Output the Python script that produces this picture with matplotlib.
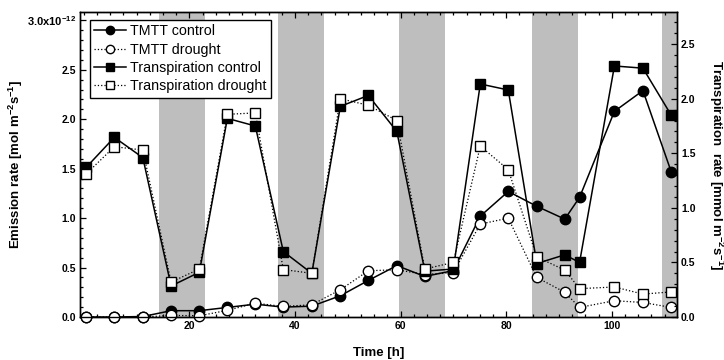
import numpy as np
import matplotlib
matplotlib.use('Agg')
import matplotlib.pyplot as plt
from matplotlib.ticker import MultipleLocator, FixedLocator, FixedFormatter

plt.rcParams['font.family'] = ['Liberation Sans', 'DejaVu Sans']
plt.rcParams['mathtext.fontset'] = 'custom'
plt.rcParams['mathtext.rm'] = 'Liberation Sans'
plt.rcParams['mathtext.bf'] = 'Liberation Sans:bold'
plt.rcParams['mathtext.it'] = 'Liberation Sans:italic'

# sampling times [h]
time = [0.45, 5.8, 11.2, 16.55, 21.9, 27.2, 32.5, 37.8, 43.2, 48.6, 53.9,
        59.3, 64.6, 70.0, 75.1, 80.4, 85.8, 91.1, 93.9, 100.5, 105.9, 111.25]

# TMTT emission [x1e-12 mol m-2 s-1]
tmtt_control = [0.0, 0.0, 0.005, 0.064, 0.064, 0.097, 0.13, 0.10, 0.11, 0.215, 0.37,
                0.52, 0.41, 0.47, 1.02, 1.27, 1.12, 0.99, 1.21, 2.08, 2.29, 1.47]
tmtt_drought = [0.0, 0.0, 0.0, 0.016, 0.013, 0.067, 0.14, 0.107, 0.124, 0.276, 0.468,
                0.478, 0.43, 0.45, 0.94, 1.0, 0.40, 0.25, 0.097, 0.165, 0.147, 0.097]

# transpiration [mmol m-2 s-1]
transp_control = [1.37, 1.646, 1.46, 0.284, 0.41, 1.82, 1.75, 0.60, 0.40, 1.93, 2.03,
                  1.70, 0.42, 0.44, 2.135, 2.08, 0.49, 0.57, 0.50, 2.30, 2.28, 1.85]
transp_drought = [1.31, 1.56, 1.53, 0.32, 0.44, 1.857, 1.87, 0.435, 0.40, 2.0, 1.94,
                  1.80, 0.44, 0.50, 1.566, 1.35, 0.55, 0.43, 0.26, 0.275, 0.21, 0.23]

# dark periods [h]
nights = [(14.3, 22.9), (36.8, 45.5), (59.7, 68.4), (84.9, 93.6), (109.5, 113)]

fig = plt.figure(figsize=(7.24, 3.6), dpi=100)
ax1 = fig.add_axes([0.1105, 0.1194, 0.8242, 0.8459])
ax2 = ax1.twinx()

for a, b in nights:
    ax1.axvspan(a, b, color='#bebebe', lw=0, zorder=0)

l1, = ax1.plot(time, tmtt_control, '-', color='black', lw=1.1, marker='o', ms=7.5,
               mfc='black', mec='black', clip_on=False, zorder=3, label='TMTT control')
l2, = ax1.plot(time, tmtt_drought, ':', color='black', lw=0.9, marker='o', ms=7.5,
               mfc='white', mec='black', mew=1.0, clip_on=False, zorder=4,
               label='TMTT drought')
l3, = ax2.plot(time, transp_control, '-', color='black', lw=1.1, marker='s', ms=7.5,
               mfc='black', mec='black', clip_on=False, zorder=3,
               label='Transpiration control')
l4, = ax2.plot(time, transp_drought, ':', color='black', lw=0.9, marker='s', ms=7.5,
               mfc='white', mec='black', mew=1.0, clip_on=False, zorder=4,
               label='Transpiration drought')

ax1.set_xlim(-0.7, 112.3)
ax1.set_ylim(0, 3.08)
ax2.set_ylim(0, 2.79)

ax1.xaxis.set_major_locator(FixedLocator([20, 40, 60, 80, 100]))
ax1.xaxis.set_minor_locator(MultipleLocator(2.5))
ax1.yaxis.set_major_locator(FixedLocator([0, 0.5, 1.0, 1.5, 2.0, 2.5, 3.0]))
ax1.yaxis.set_major_formatter(FixedFormatter(
    ['0.0', '0.5', '1.0', '1.5', '2.0', '2.5', r'3.0x10$^{\mathbf{-12}}$']))
ax1.yaxis.set_minor_locator(MultipleLocator(0.1))
ax2.yaxis.set_major_locator(MultipleLocator(0.5))
ax2.yaxis.set_major_formatter(matplotlib.ticker.FormatStrFormatter('%.1f'))
ax2.yaxis.set_minor_locator(MultipleLocator(0.1))

for a in (ax1, ax2):
    a.tick_params(which='both', direction='in', width=0.9)
    a.tick_params(which='major', length=4, labelsize=7.5, pad=3)
    a.tick_params(which='minor', length=2.2)
    for lab in a.get_xticklabels() + a.get_yticklabels():
        lab.set_fontweight('bold')
    for s in a.spines.values():
        s.set_linewidth(1.0)
ax1.tick_params(axis='x', which='both', top=True)
ax2.tick_params(axis='y', which='both', left=False, right=True)
ax1.get_yticklabels()[-1].set_fontsize(8)

ax1.set_xlabel('Time [h]', fontsize=9.5, fontweight='bold', va='center')
ax1.xaxis.set_label_coords(0.5, -0.117)
ax1.set_ylabel(r'Emission rate [mol m$^{\mathbf{-2}}$s$^{\mathbf{-1}}$]',
               fontsize=9.5, fontweight='bold', va='center')
ax1.yaxis.set_label_coords(-0.107, 0.5)
ax2.set_ylabel(r'Transpiration  rate [mmol m$^{\mathbf{-2}}$s$^{\mathbf{-1}}$]',
               fontsize=9.5, fontweight='bold', rotation=270, va='center')
ax2.yaxis.set_label_coords(1.066, 0.5)

leg = ax2.legend(handles=[l1, l2, l3, l4], loc='upper left',
                 bbox_to_anchor=(0.017, 0.975), borderaxespad=0, fontsize=10.3,
                 fancybox=False, framealpha=1, edgecolor='black', markerscale=0.8,
                 handlelength=2.2, handletextpad=0.3, labelspacing=0.3,
                 borderpad=0.3)
leg.get_frame().set_linewidth(1.0)
leg.set_zorder(10)

fig.savefig('out.png', dpi=100)
